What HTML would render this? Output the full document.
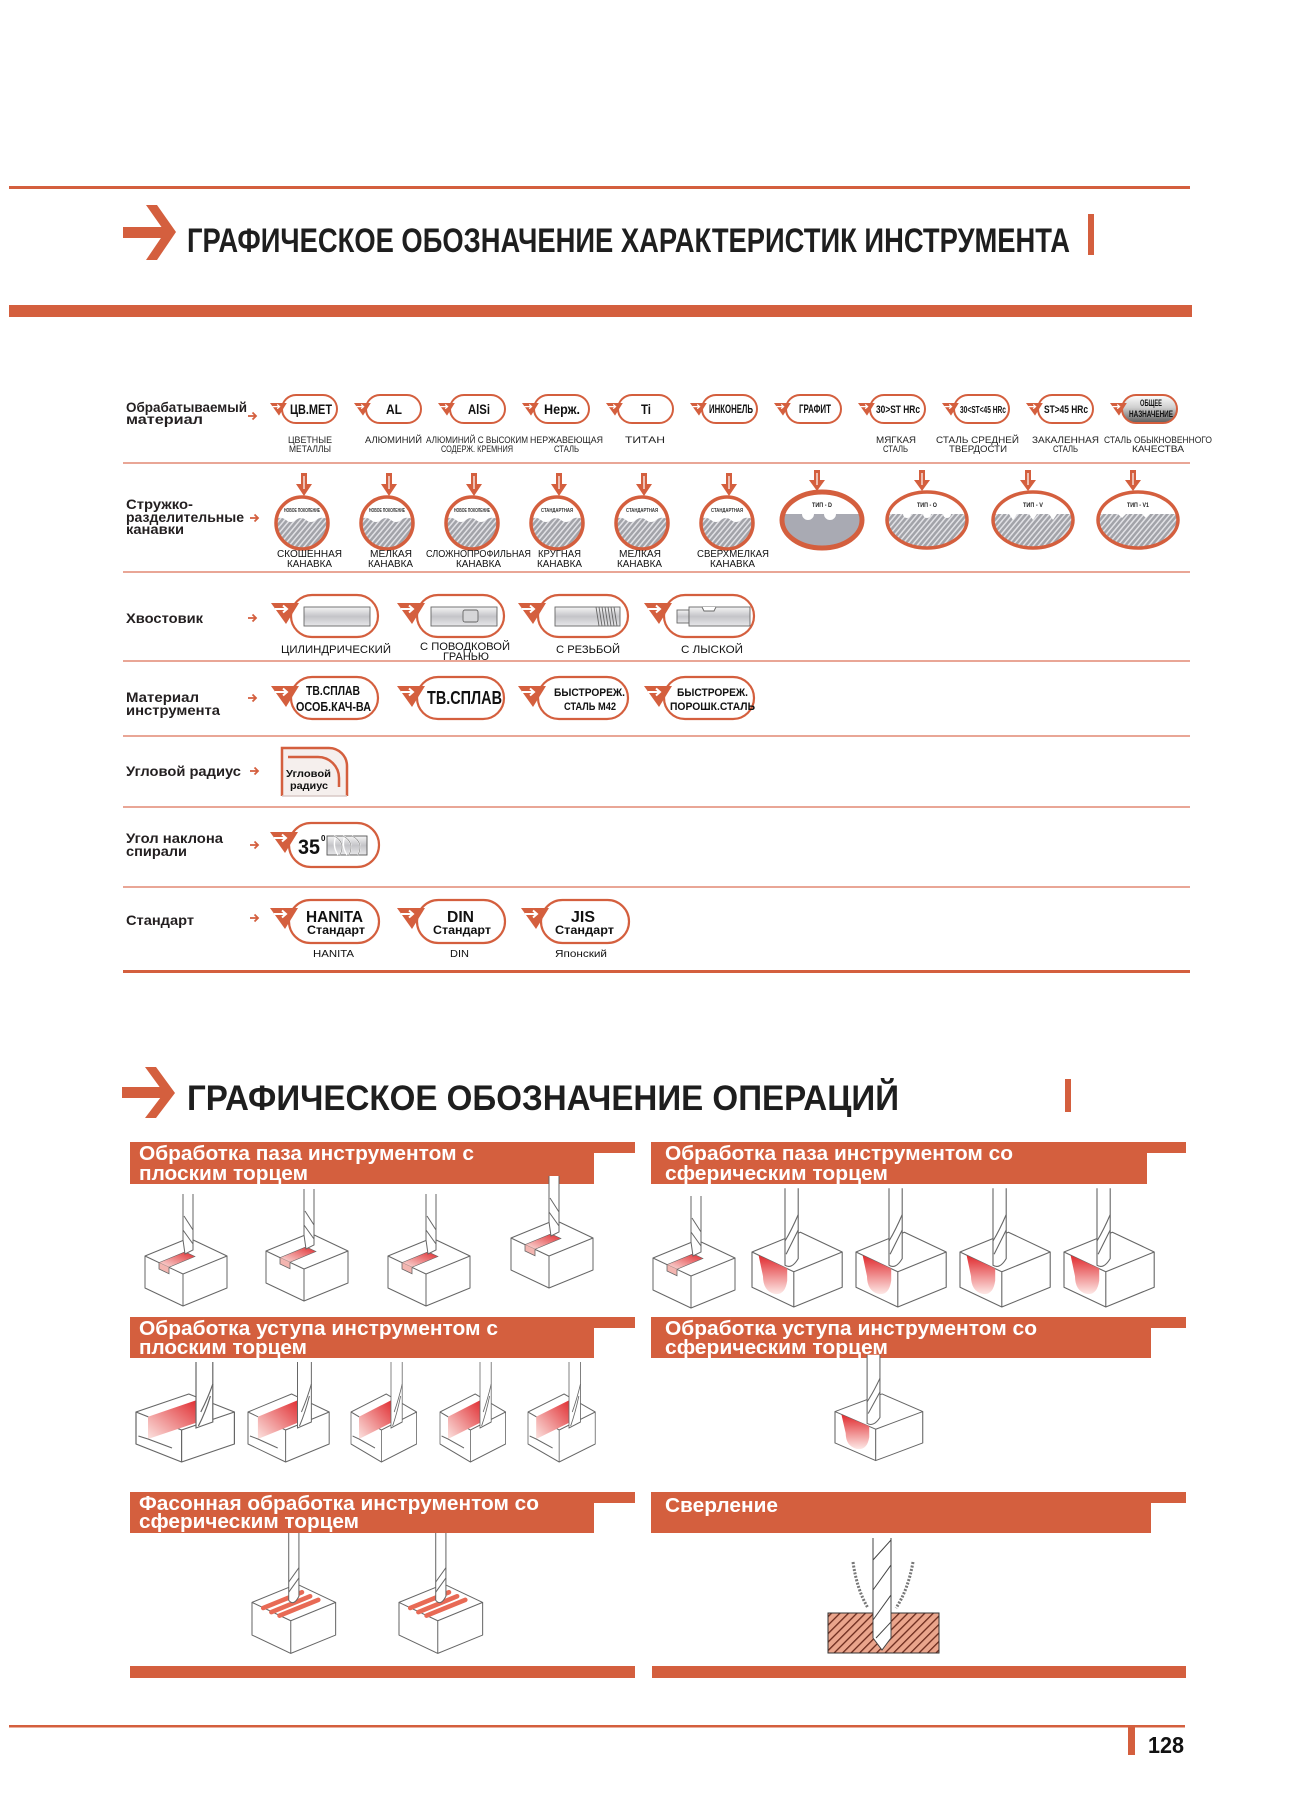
<!DOCTYPE html>
<html><head><meta charset="utf-8"><style>html,body{margin:0;padding:0;background:#fff}svg{display:block}</style></head><body>
<svg xmlns="http://www.w3.org/2000/svg" width="1299" height="1813" viewBox="0 0 1299 1813" font-family="'Liberation Sans', Arial, sans-serif">
<defs>
<pattern id="h" width="4" height="4" patternUnits="userSpaceOnUse" patternTransform="rotate(40)"><rect width="4" height="4" fill="#a2a3a9"/><rect width="1.5" height="4" fill="#e2e2e6"/></pattern>
<pattern id="hd" width="6" height="6" patternUnits="userSpaceOnUse" patternTransform="rotate(45)"><rect width="6" height="6" fill="#eaa58c"/><rect width="1.3" height="6" fill="#6b2a1c"/></pattern>
<linearGradient id="gc" x1="0" y1="0" x2="0" y2="1"><stop offset="0" stop-color="#f5f5f5"/><stop offset="0.5" stop-color="#c4c4c8"/><stop offset="1" stop-color="#e8e8ea"/></linearGradient>
<linearGradient id="gr" x1="1" y1="0" x2="0" y2="1"><stop offset="0" stop-color="#e02a2e"/><stop offset="1" stop-color="#fbe3e0"/></linearGradient>
<linearGradient id="gr2" x1="0" y1="0" x2="0" y2="1"><stop offset="0" stop-color="#e02a2e"/><stop offset="1" stop-color="#fde8e6"/></linearGradient>
<linearGradient id="gg" x1="0" y1="0" x2="0" y2="1"><stop offset="0" stop-color="#ffffff"/><stop offset="0.45" stop-color="#cfcfcf"/><stop offset="1" stop-color="#5a5a5a"/></linearGradient>
<g id="mk"><path d="M0,0 L28,0 L15,21 Z" fill="#d45f3e"/><path d="M4,6 L16,6 M12,2.5 L16,6 L12,9.5" fill="none" stroke="#fff" stroke-width="2"/></g>
<g id="ra"><path d="M0,0 L8,0 M4.5,-3.5 L8,0 L4.5,3.5" fill="none" stroke="#d45f3e" stroke-width="1.8"/></g>
<g id="fcr"><circle r="26" fill="none" stroke="#d45f3e" stroke-width="3.5"/><path d="M-1,-50 L5,-50 L5,-39 L10,-39 L2,-27 L-6,-39 L-1,-39 Z" fill="#d45f3e"/><path d="M2,-47 L2,-34" stroke="#fff" stroke-width="1.2"/></g>
<g id="fer"><ellipse rx="40" ry="28" fill="none" stroke="#d45f3e" stroke-width="3.5"/><path d="M-8,-50 L-2,-50 L-2,-40 L3,-40 L-5,-29 L-13,-40 L-8,-40 Z" fill="#d45f3e"/><path d="M-5,-47 L-5,-35" stroke="#fff" stroke-width="1.2"/></g>
<path id="fch" d="M-25.7,-4 Q-21,-7 -16,-3 Q-11,1 -6,-3 Q-1,-7 4,-3 Q9,1 14,-3 Q19,-7 25.7,-4 A26,26 0 1 1 -25.7,-4 Z" fill="url(#h)"/>
<g id="cube"><path d="M0,20 L44,2 L82,20 L38,38 Z M0,20 L0,52 L38,70 L82,52 L82,20 M38,38 L38,70" fill="#fff" stroke="#666" stroke-width="1" stroke-linejoin="round"/></g>
<g id="opA"><use href="#cube"/>
<path d="M14,26.6 L24,31.3 L50,20.5 L40,15.8 Z" fill="url(#gr)" stroke="#666" stroke-width="0.6"/>
<path d="M14,26.6 L14,33 L24,37.7 L24,31.3" fill="#f3b5b0" stroke="#666" stroke-width="0.8"/>
<path d="M38,-42 L38,4 L40,18 L48,14 L48,-42" fill="#fff" stroke="#666" stroke-width="1"/>
<path d="M38,-6 L48,8 M39,-20 L48,-6" fill="none" stroke="#666" stroke-width="1"/></g>
<g id="opB"><use href="#cube"/>
<path d="M6,23 L32,35 L32,46 Q30,60 20,58 Q10,55 10,42 Z" fill="url(#gr2)"/>
<path d="M30,-38 L30,32 Q36,36 42,26 L42,-38" fill="#fff" stroke="#666"/>
<path d="M30,10 Q36,0 42,-14 M31,22 Q38,8 42,0" fill="none" stroke="#666"/></g>
<g id="opC"><use href="#cube"/>
<path d="M10,24.7 L52,7.5 L52,30 L10,47 Z" fill="url(#gr)"/>
<path d="M10,47 L2,44 M10,47 L30,56" stroke="#666" fill="none"/>
<path d="M50,-30 L50,36 L64,30 L64,-30" fill="#fff" stroke="#666"/>
<path d="M52,34 Q58,20 62,4 M54,20 Q60,6 64,-8" fill="none" stroke="#666"/></g>
<g id="opD"><use href="#cube"/>
<path d="M11,25.5 L49,10 M19,29.5 L57,14 M27,33 L65,17.5" stroke="#e86a55" stroke-width="4.5" stroke-linecap="round"/>
<path d="M36,-48 L36,18 Q41,24 46,14 L46,-48" fill="#fff" stroke="#666"/>
<path d="M36,0 L46,-14 M36,10 L46,-4" fill="none" stroke="#666"/></g>
</defs>

<!-- ===== SECTION 1 HEADER ===== -->
<g fill="#d45f3e">
<rect x="9" y="186" width="1181" height="3"/>
<rect x="123" y="227" width="42" height="11"/>
<polygon points="146,205 157,205 176,232 157,260 146,260 165,232"/>
<rect x="1088" y="214" width="6" height="41"/>
<rect x="9" y="305" width="1183" height="12"/>
</g>
<text x="187" y="252" font-size="34" font-weight="bold" textLength="883" lengthAdjust="spacingAndGlyphs" fill="#1e1e1e">ГРАФИЧЕСКОЕ ОБОЗНАЧЕНИЕ ХАРАКТЕРИСТИК ИНСТРУМЕНТА</text>

<!-- separators -->
<g fill="#e9a696">
<rect x="123" y="462" width="1067" height="2"/>
<rect x="123" y="571" width="1067" height="2"/>
<rect x="123" y="660" width="1067" height="2"/>
<rect x="123" y="735" width="1067" height="2"/>
<rect x="123" y="806" width="1067" height="2"/>
<rect x="123" y="886" width="1067" height="2"/>
</g>
<rect x="123" y="970" width="1067" height="3" fill="#d45f3e"/>

<!-- row labels -->
<g font-size="14" font-weight="bold" fill="#231f20">
<text x="126" y="412" textLength="121" lengthAdjust="spacingAndGlyphs">Обрабатываемый</text>
<text x="126" y="424" textLength="77" lengthAdjust="spacingAndGlyphs">материал</text>
<text x="126" y="509" textLength="67" lengthAdjust="spacingAndGlyphs">Стружко-</text>
<text x="126" y="522" textLength="118" lengthAdjust="spacingAndGlyphs">разделительные</text>
<text x="126" y="534" textLength="58" lengthAdjust="spacingAndGlyphs">канавки</text>
<text x="126" y="623" textLength="77" lengthAdjust="spacingAndGlyphs">Хвостовик</text>
<text x="126" y="702" textLength="73" lengthAdjust="spacingAndGlyphs">Материал</text>
<text x="126" y="715" textLength="94" lengthAdjust="spacingAndGlyphs">инструмента</text>
<text x="126" y="776" textLength="115" lengthAdjust="spacingAndGlyphs">Угловой радиус</text>
<text x="126" y="843" textLength="97" lengthAdjust="spacingAndGlyphs">Угол наклона</text>
<text x="126" y="856" textLength="61" lengthAdjust="spacingAndGlyphs">спирали</text>
<text x="126" y="925" textLength="68" lengthAdjust="spacingAndGlyphs">Стандарт</text>
</g>
<use href="#ra" x="248" y="416"/>
<use href="#ra" x="250" y="518"/>
<use href="#ra" x="248" y="618"/>
<use href="#ra" x="248" y="698"/>
<use href="#ra" x="250" y="771"/>
<use href="#ra" x="250" y="845"/>
<use href="#ra" x="250" y="918"/>

<!-- ROW 1 pills -->
<g fill="#fff" stroke="#d45f3e" stroke-width="2">
<rect x="282" y="395" width="55" height="28" rx="14"/>
<rect x="366" y="395" width="55" height="28" rx="14"/>
<rect x="450" y="395" width="55" height="28" rx="14"/>
<rect x="534" y="395" width="55" height="28" rx="14"/>
<rect x="618" y="395" width="55" height="28" rx="14"/>
<rect x="702" y="395" width="55" height="28" rx="14"/>
<rect x="786" y="395" width="55" height="28" rx="14"/>
<rect x="870" y="395" width="55" height="28" rx="14"/>
<rect x="954" y="395" width="55" height="28" rx="14"/>
<rect x="1038" y="395" width="55" height="28" rx="14"/>
<rect x="1122" y="395" width="55" height="28" rx="14" fill="url(#gg)"/>
</g>
<use href="#mk" transform="translate(270,403) scale(0.6)"/>
<use href="#mk" transform="translate(354,403) scale(0.6)"/>
<use href="#mk" transform="translate(438,403) scale(0.6)"/>
<use href="#mk" transform="translate(522,403) scale(0.6)"/>
<use href="#mk" transform="translate(606,403) scale(0.6)"/>
<use href="#mk" transform="translate(690,403) scale(0.6)"/>
<use href="#mk" transform="translate(774,403) scale(0.6)"/>
<use href="#mk" transform="translate(858,403) scale(0.6)"/>
<use href="#mk" transform="translate(942,403) scale(0.6)"/>
<use href="#mk" transform="translate(1026,403) scale(0.6)"/>
<use href="#mk" transform="translate(1110,403) scale(0.6)"/>
<g font-family="'Liberation Sans Narrow','Liberation Sans',sans-serif" font-weight="bold" fill="#111" font-size="14">
<text x="290" y="414" textLength="42" lengthAdjust="spacingAndGlyphs">ЦВ.МЕТ</text>
<text x="386" y="414" textLength="16" lengthAdjust="spacingAndGlyphs">AL</text>
<text x="468" y="414" textLength="22" lengthAdjust="spacingAndGlyphs">AlSi</text>
<text x="544" y="414" textLength="36" lengthAdjust="spacingAndGlyphs">Нерж.</text>
<text x="641" y="414" textLength="10" lengthAdjust="spacingAndGlyphs">Ti</text>
<text x="709" y="413" font-size="12" textLength="44" lengthAdjust="spacingAndGlyphs">ИНКОНЕЛЬ</text>
<text x="799" y="413" font-size="12" textLength="32" lengthAdjust="spacingAndGlyphs">ГРАФИТ</text>
<text x="876" y="413" font-size="11" textLength="44" lengthAdjust="spacingAndGlyphs">30&gt;ST HRc</text>
<text x="960" y="413" font-size="10" textLength="46" lengthAdjust="spacingAndGlyphs">30&lt;ST&lt;45 HRc</text>
<text x="1044" y="413" font-size="11" textLength="44" lengthAdjust="spacingAndGlyphs">ST&gt;45 HRc</text>
<text x="1140" y="406" font-size="9" textLength="22" lengthAdjust="spacingAndGlyphs">ОБЩЕЕ</text>
<text x="1129" y="417" font-size="9" textLength="44" lengthAdjust="spacingAndGlyphs">НАЗНАЧЕНИЕ</text>
</g>
<g font-family="'Liberation Sans Narrow','Liberation Sans',sans-serif" fill="#222" font-size="9.5">
<text x="288" y="443" textLength="44" lengthAdjust="spacingAndGlyphs">ЦВЕТНЫЕ</text>
<text x="289" y="452" textLength="42" lengthAdjust="spacingAndGlyphs">МЕТАЛЛЫ</text>
<text x="365" y="443" textLength="57" lengthAdjust="spacingAndGlyphs">АЛЮМИНИЙ</text>
<text x="426" y="443" textLength="102" lengthAdjust="spacingAndGlyphs">АЛЮМИНИЙ С ВЫСОКИМ</text>
<text x="441" y="452" textLength="72" lengthAdjust="spacingAndGlyphs">СОДЕРЖ. КРЕМНИЯ</text>
<text x="530" y="443" textLength="73" lengthAdjust="spacingAndGlyphs">НЕРЖАВЕЮЩАЯ</text>
<text x="554" y="452" textLength="25" lengthAdjust="spacingAndGlyphs">СТАЛЬ</text>
<text x="625" y="443" textLength="40" lengthAdjust="spacingAndGlyphs">ТИТАН</text>
<text x="876" y="443" textLength="40" lengthAdjust="spacingAndGlyphs">МЯГКАЯ</text>
<text x="883" y="452" textLength="25" lengthAdjust="spacingAndGlyphs">СТАЛЬ</text>
<text x="936" y="443" textLength="83" lengthAdjust="spacingAndGlyphs">СТАЛЬ СРЕДНЕЙ</text>
<text x="949" y="452" textLength="58" lengthAdjust="spacingAndGlyphs">ТВЕРДОСТИ</text>
<text x="1032" y="443" textLength="67" lengthAdjust="spacingAndGlyphs">ЗАКАЛЕННАЯ</text>
<text x="1053" y="452" textLength="25" lengthAdjust="spacingAndGlyphs">СТАЛЬ</text>
<text x="1104" y="443" textLength="108" lengthAdjust="spacingAndGlyphs">СТАЛЬ ОБЫКНОВЕННОГО</text>
<text x="1132" y="452" textLength="52" lengthAdjust="spacingAndGlyphs">КАЧЕСТВА</text>
</g>

<!-- ROW 2 flutes -->
<g font-family="'Liberation Sans Narrow','Liberation Sans',sans-serif" font-size="5.5" font-weight="bold" fill="#333">
<g transform="translate(302,523)"><circle r="26" fill="#fff"/><use href="#fch"/><use href="#fcr"/><text x="-18" y="-11" textLength="36" lengthAdjust="spacingAndGlyphs">НОВОЕ ПОКОЛЕНИЕ</text></g>
<g transform="translate(387,523)"><circle r="26" fill="#fff"/><use href="#fch"/><use href="#fcr"/><text x="-18" y="-11" textLength="36" lengthAdjust="spacingAndGlyphs">НОВОЕ ПОКОЛЕНИЕ</text></g>
<g transform="translate(472,523)"><circle r="26" fill="#fff"/><use href="#fch"/><use href="#fcr"/><text x="-18" y="-11" textLength="36" lengthAdjust="spacingAndGlyphs">НОВОЕ ПОКОЛЕНИЕ</text></g>
<g transform="translate(557,523)"><circle r="26" fill="#fff"/><use href="#fch"/><use href="#fcr"/><text x="-16" y="-11" textLength="32" lengthAdjust="spacingAndGlyphs">СТАНДАРТНАЯ</text></g>
<g transform="translate(642,523)"><circle r="26" fill="#fff"/><use href="#fch"/><use href="#fcr"/><text x="-16" y="-11" textLength="32" lengthAdjust="spacingAndGlyphs">СТАНДАРТНАЯ</text></g>
<g transform="translate(727,523)"><circle r="26" fill="#fff"/><use href="#fch"/><use href="#fcr"/><text x="-16" y="-11" textLength="32" lengthAdjust="spacingAndGlyphs">СТАНДАРТНАЯ</text></g>
</g>
<g font-size="6.5" font-weight="bold" fill="#222">
<g transform="translate(822,520)"><ellipse rx="40" ry="28" fill="#fff"/>
<path d="M-39.07,-6 L-20,-6 A6,6 0 0 0 -8,-6 L2,-6 A6,6 0 0 0 14,-6 L39.07,-6 A40,28 0 1 1 -39.07,-6 Z" fill="#a9aab3"/>
<use href="#fer"/><ellipse rx="40" ry="28" fill="none" stroke="#d45f3e" stroke-width="5"/><text x="-10" y="-13" textLength="20" lengthAdjust="spacingAndGlyphs">ТИП - D</text></g>
<g transform="translate(927,520)"><ellipse rx="40" ry="28" fill="#fff"/>
<path d="M-39.07,-6 L-24,-6 A4,4 0 0 0 -16,-6 L-4,-6 A4,4 0 0 0 4,-6 L16,-6 A4,4 0 0 0 24,-6 L39.07,-6 A40,28 0 1 1 -39.07,-6 Z" fill="url(#h)"/>
<use href="#fer"/><text x="-10" y="-13" textLength="20" lengthAdjust="spacingAndGlyphs">ТИП - O</text></g>
<g transform="translate(1033,520)"><ellipse rx="40" ry="28" fill="#fff"/>
<path d="M-39.07,-6 L-24,-6 L-20,0 L-16,-6 L-4,-6 L0,0 L4,-6 L16,-6 L20,0 L24,-6 L39.07,-6 A40,28 0 1 1 -39.07,-6 Z" fill="url(#h)"/>
<use href="#fer"/><text x="-10" y="-13" textLength="20" lengthAdjust="spacingAndGlyphs">ТИП - V</text></g>
<g transform="translate(1138,520)"><ellipse rx="40" ry="28" fill="#fff"/>
<path d="M-39.07,-6 L-20,-6 L-16,-2 L-12,-6 L4,-6 L8,-2 L12,-6 L39.07,-6 A40,28 0 1 1 -39.07,-6 Z" fill="url(#h)"/>
<use href="#fer"/><text x="-11" y="-13" textLength="22" lengthAdjust="spacingAndGlyphs">ТИП - V1</text></g>
</g>
<g font-family="'Liberation Sans Narrow','Liberation Sans',sans-serif" font-size="10" fill="#111">
<text x="277" y="557" textLength="65" lengthAdjust="spacingAndGlyphs">СКОШЕННАЯ</text>
<text x="287" y="567" textLength="45" lengthAdjust="spacingAndGlyphs">КАНАВКА</text>
<text x="370" y="557" textLength="42" lengthAdjust="spacingAndGlyphs">МЕЛКАЯ</text>
<text x="368" y="567" textLength="45" lengthAdjust="spacingAndGlyphs">КАНАВКА</text>
<text x="426" y="557" textLength="105" lengthAdjust="spacingAndGlyphs">СЛОЖНОПРОФИЛЬНАЯ</text>
<text x="456" y="567" textLength="45" lengthAdjust="spacingAndGlyphs">КАНАВКА</text>
<text x="538" y="557" textLength="43" lengthAdjust="spacingAndGlyphs">КРУГНАЯ</text>
<text x="537" y="567" textLength="45" lengthAdjust="spacingAndGlyphs">КАНАВКА</text>
<text x="619" y="557" textLength="42" lengthAdjust="spacingAndGlyphs">МЕЛКАЯ</text>
<text x="617" y="567" textLength="45" lengthAdjust="spacingAndGlyphs">КАНАВКА</text>
<text x="697" y="557" textLength="72" lengthAdjust="spacingAndGlyphs">СВЕРХМЕЛКАЯ</text>
<text x="710" y="567" textLength="45" lengthAdjust="spacingAndGlyphs">КАНАВКА</text>
</g>

<!-- ROW 3 shank -->
<g fill="#fff" stroke="#d45f3e" stroke-width="2.2">
<rect x="291" y="595" width="87" height="42" rx="21"/>
<rect x="417" y="595" width="87" height="42" rx="21"/>
<rect x="538" y="595" width="90" height="42" rx="21"/>
<rect x="664" y="595" width="90" height="42" rx="21"/>
</g>
<use href="#mk" transform="translate(271,603)"/>
<use href="#mk" transform="translate(397,603)"/>
<use href="#mk" transform="translate(518,603)"/>
<use href="#mk" transform="translate(644,603)"/>
<g stroke="#666" stroke-width="0.9">
<rect x="304" y="607" width="66" height="19" fill="url(#gc)"/>
<rect x="431" y="607" width="66" height="19" fill="url(#gc)"/>
<rect x="463" y="610" width="15" height="12" rx="2" fill="#d6d6d8"/>
<rect x="555" y="607" width="65" height="19" fill="url(#gc)"/>
<path d="M596,607 l3,19 M599,607 l3,19 M602,607 l3,19 M605,607 l3,19 M608,607 l3,19 M611,607 l3,19 M614,607 l3,19" fill="none"/>
<rect x="677" y="610" width="12" height="13" fill="url(#gc)"/>
<rect x="689" y="607" width="61" height="19" fill="url(#gc)"/>
<path d="M702,607 L704,611 L714,611 L716,607" fill="#fff"/>
</g>
<g font-family="'Liberation Sans Narrow','Liberation Sans',sans-serif" font-size="11" fill="#111">
<text x="281" y="653" textLength="110" lengthAdjust="spacingAndGlyphs">ЦИЛИНДРИЧЕСКИЙ</text>
<text x="420" y="650" textLength="90" lengthAdjust="spacingAndGlyphs">С ПОВОДКОВОЙ</text>
<text x="443" y="660" textLength="46" lengthAdjust="spacingAndGlyphs">ГРАНЬЮ</text>
<text x="556" y="653" textLength="64" lengthAdjust="spacingAndGlyphs">С РЕЗЬБОЙ</text>
<text x="681" y="653" textLength="62" lengthAdjust="spacingAndGlyphs">С ЛЫСКОЙ</text>
</g>

<!-- ROW 4 tool material -->
<g fill="#fff" stroke="#d45f3e" stroke-width="2.2">
<rect x="291" y="677" width="87" height="42" rx="21"/>
<rect x="417" y="677" width="87" height="42" rx="21"/>
<rect x="538" y="677" width="90" height="42" rx="21"/>
<rect x="664" y="677" width="90" height="42" rx="21"/>
</g>
<use href="#mk" transform="translate(271,686)"/>
<use href="#mk" transform="translate(397,686)"/>
<use href="#mk" transform="translate(518,686)"/>
<use href="#mk" transform="translate(644,686)"/>
<g font-family="'Liberation Sans Narrow','Liberation Sans',sans-serif" font-weight="bold" fill="#111">
<text x="306" y="695" font-size="13" textLength="54" lengthAdjust="spacingAndGlyphs">ТВ.СПЛАВ</text>
<text x="296" y="711" font-size="13" textLength="75" lengthAdjust="spacingAndGlyphs">ОСОБ.КАЧ-ВА</text>
<text x="427" y="704" font-size="18" textLength="75" lengthAdjust="spacingAndGlyphs">ТВ.СПЛАВ</text>
<text x="554" y="696" font-size="11" textLength="71" lengthAdjust="spacingAndGlyphs">БЫСТРОРЕЖ.</text>
<text x="564" y="710" font-size="11" textLength="52" lengthAdjust="spacingAndGlyphs">СТАЛЬ М42</text>
<text x="677" y="696" font-size="11" textLength="71" lengthAdjust="spacingAndGlyphs">БЫСТРОРЕЖ.</text>
<text x="670" y="710" font-size="11" textLength="85" lengthAdjust="spacingAndGlyphs">ПОРОШК.СТАЛЬ</text>
</g>

<!-- ROW 5 corner radius -->
<path d="M282,796 L282,748 L329,748 A18,18 0 0 1 347,766 L347,796 Z" fill="#f5efed" stroke="none"/>
<path d="M282,796 L282,748 L329,748 A18,18 0 0 1 347,766 L347,796" fill="none" stroke="#d45f3e" stroke-width="2.5"/>
<path d="M282,796 L347,796" stroke="#d9c9c5" stroke-width="1.5"/>
<path d="M288,757 L318,757 A21,21 0 0 1 339,778 L339,787" fill="none" stroke="#d45f3e" stroke-width="2.5"/>
<g font-size="10.5" font-weight="bold" fill="#111">
<text x="286" y="777" textLength="45" lengthAdjust="spacingAndGlyphs">Угловой</text>
<text x="290" y="789" textLength="38" lengthAdjust="spacingAndGlyphs">радиус</text>
</g>

<!-- ROW 6 helix -->
<rect x="289" y="823" width="90" height="44" rx="22" fill="#fff" stroke="#d45f3e" stroke-width="2.2"/>
<use href="#mk" transform="translate(270,832)"/>
<text x="298" y="854" font-family="'Liberation Sans Narrow','Liberation Sans',sans-serif" font-size="21" font-weight="bold" fill="#111" textLength="22" lengthAdjust="spacingAndGlyphs">35</text>
<text x="321" y="841" font-size="8" font-weight="bold" fill="#111">0</text>
<rect x="327" y="836" width="40" height="19" fill="url(#gc)" stroke="#555" stroke-width="0.9"/>
<path d="M334,836 Q346,842 340,855 M343,836 Q355,842 349,855 M352,836 Q364,842 358,855 M336,836 Q332,846 338,855 M345,836 Q341,846 347,855" fill="none" stroke="#fff" stroke-width="1.4"/>
<path d="M334,836 Q346,842 340,855 M343,836 Q355,842 349,855 M352,836 Q364,842 358,855" fill="none" stroke="#777" stroke-width="0.6"/>

<!-- ROW 7 standard -->
<g fill="#fff" stroke="#d45f3e" stroke-width="2.2">
<rect x="289" y="900" width="90" height="43" rx="21.5"/>
<rect x="417" y="900" width="88" height="43" rx="21.5"/>
<rect x="541" y="900" width="88" height="43" rx="21.5"/>
</g>
<use href="#mk" transform="translate(270,908)"/>
<use href="#mk" transform="translate(397,908)"/>
<use href="#mk" transform="translate(521,908)"/>
<g font-weight="bold" fill="#111">
<text x="306" y="922" font-size="16" textLength="57" lengthAdjust="spacingAndGlyphs">HANITA</text>
<text x="307" y="934" font-size="12" textLength="58" lengthAdjust="spacingAndGlyphs">Стандарт</text>
<text x="447" y="922" font-size="16" textLength="27" lengthAdjust="spacingAndGlyphs">DIN</text>
<text x="433" y="934" font-size="12" textLength="58" lengthAdjust="spacingAndGlyphs">Стандарт</text>
<text x="571" y="922" font-size="16" textLength="24" lengthAdjust="spacingAndGlyphs">JIS</text>
<text x="555" y="934" font-size="12" textLength="59" lengthAdjust="spacingAndGlyphs">Стандарт</text>
</g>
<g font-size="10.5" fill="#111">
<text x="313" y="957" textLength="41" lengthAdjust="spacingAndGlyphs">HANITA</text>
<text x="450" y="957" textLength="19" lengthAdjust="spacingAndGlyphs">DIN</text>
<text x="555" y="957" textLength="52" lengthAdjust="spacingAndGlyphs">Японский</text>
</g>

<!-- ===== SECTION 2 HEADER ===== -->
<g fill="#d45f3e">
<rect x="122" y="1087" width="42" height="11"/>
<polygon points="145,1067 156,1067 175,1093 156,1118 145,1118 164,1093"/>
<rect x="1065" y="1079" width="6" height="33"/>
</g>
<text x="187" y="1110" font-size="35" font-weight="bold" fill="#1e1e1e" textLength="712" lengthAdjust="spacingAndGlyphs">ГРАФИЧЕСКОЕ ОБОЗНАЧЕНИЕ ОПЕРАЦИЙ</text>

<!-- op header bars -->
<g fill="#d45f3e">
<rect x="130" y="1142" width="505" height="11"/><rect x="130" y="1142" width="464" height="42"/>
<rect x="651" y="1142" width="535" height="11"/><rect x="651" y="1142" width="496" height="42"/>
<rect x="130" y="1317" width="505" height="11"/><rect x="130" y="1317" width="464" height="41"/>
<rect x="651" y="1317" width="535" height="11"/><rect x="651" y="1317" width="500" height="41"/>
<rect x="130" y="1492" width="505" height="11"/><rect x="130" y="1492" width="464" height="41"/>
<rect x="651" y="1492" width="535" height="11"/><rect x="651" y="1492" width="500" height="41"/>
<rect x="130" y="1666" width="505" height="12"/>
<rect x="652" y="1666" width="534" height="12"/>
<rect x="9" y="1725" width="1176" height="2.5"/>
<rect x="1128" y="1727" width="7" height="28"/>
</g>
<g font-size="20" font-weight="bold" fill="#fff">
<text x="139" y="1160" textLength="335" lengthAdjust="spacingAndGlyphs">Обработка паза инструментом с</text>
<text x="139" y="1180" textLength="169" lengthAdjust="spacingAndGlyphs">плоским торцем</text>
<text x="665" y="1160" textLength="348" lengthAdjust="spacingAndGlyphs">Обработка паза инструментом со</text>
<text x="665" y="1180" textLength="223" lengthAdjust="spacingAndGlyphs">сферическим торцем</text>
<text x="139" y="1335" textLength="359" lengthAdjust="spacingAndGlyphs">Обработка уступа инструментом с</text>
<text x="139" y="1354" textLength="168" lengthAdjust="spacingAndGlyphs">плоским торцем</text>
<text x="665" y="1335" textLength="372" lengthAdjust="spacingAndGlyphs">Обработка уступа инструментом со</text>
<text x="665" y="1354" textLength="223" lengthAdjust="spacingAndGlyphs">сферическим торцем</text>
<text x="139" y="1510" textLength="400" lengthAdjust="spacingAndGlyphs">Фасонная обработка инструментом со</text>
<text x="139" y="1528" textLength="220" lengthAdjust="spacingAndGlyphs">сферическим торцем</text>
<text x="665" y="1512" textLength="113" lengthAdjust="spacingAndGlyphs">Сверление</text>
</g>

<!-- op images -->
<use href="#opA" transform="translate(145,1236)"/>
<use href="#opA" transform="translate(266,1231)"/>
<use href="#opA" transform="translate(388,1236)"/>
<use href="#opA" transform="translate(511,1218)"/>

<use href="#opA" transform="translate(653,1238)"/>
<use href="#opB" transform="translate(752,1230) scale(1.1)"/>
<use href="#opB" transform="translate(856,1230) scale(1.1)"/>
<use href="#opB" transform="translate(960,1230) scale(1.1)"/>
<use href="#opB" transform="translate(1064,1230) scale(1.1)"/>

<use href="#opB" transform="translate(835,1392) scale(1.07,0.98)"/>

<use href="#opC" transform="translate(136,1392) scale(1.2,1)"/>
<use href="#opC" transform="translate(248,1392) scale(0.99,1)"/>
<use href="#opC" transform="translate(351,1392) scale(0.8,1)"/>
<use href="#opC" transform="translate(440,1392) scale(0.8,1)"/>
<use href="#opC" transform="translate(528,1392) scale(0.82,1)"/>

<use href="#opD" transform="translate(252,1582) scale(1.02)"/>
<use href="#opD" transform="translate(399,1582) scale(1.02)"/>

<!-- drill -->
<rect x="828" y="1613" width="111" height="40" fill="url(#hd)" stroke="#333" stroke-width="1"/>
<path d="M873,1538 L873,1638 L882,1650 L891,1638 L891,1538" fill="#fff" stroke="#444"/>
<path d="M873,1560 L891,1540 M873,1590 L891,1565 M873,1620 L891,1595 M876,1638 L891,1622" stroke="#444" fill="none"/>
<path d="M853,1562 Q857,1590 868,1608" stroke="#777" stroke-width="3" stroke-dasharray="2 1.5" fill="none"/>
<path d="M913,1562 Q908,1590 896,1608" stroke="#777" stroke-width="3" stroke-dasharray="2 1.5" fill="none"/>

<!-- page number -->
<text x="1148" y="1753" font-size="23" font-weight="bold" fill="#111" textLength="36" lengthAdjust="spacingAndGlyphs">128</text>
</svg>
</body></html>
